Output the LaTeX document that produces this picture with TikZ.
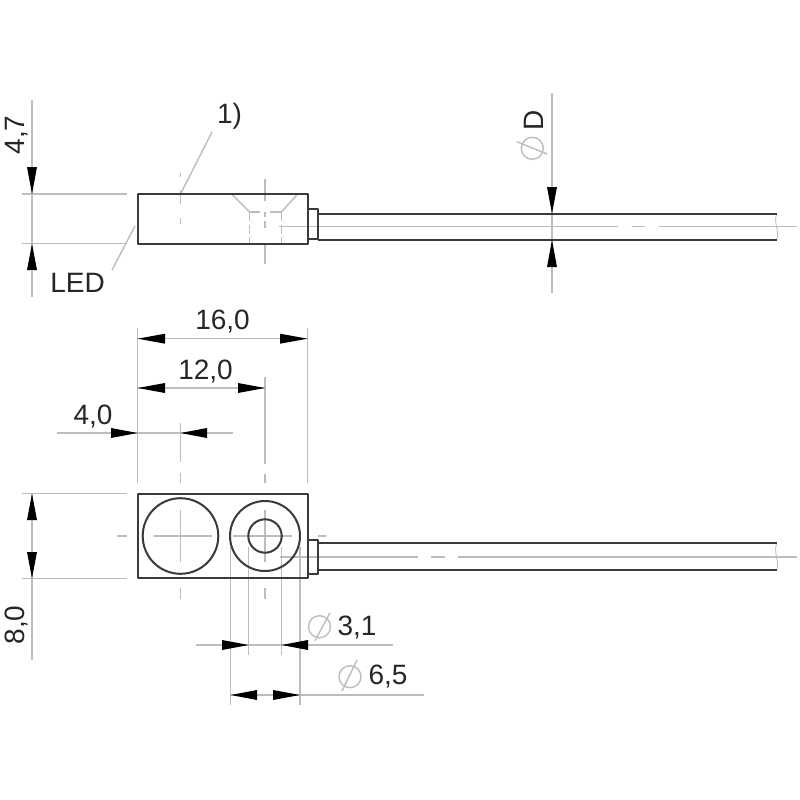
\documentclass[tikz,border=0pt]{standalone}
\usepackage{fontspec}
\setmainfont{Liberation Sans}
\definecolor{thinc}{HTML}{BDBDBD}
\definecolor{outc}{HTML}{3A3A3A}
\definecolor{txtc}{HTML}{262626}
\tikzset{
  outline/.style={draw=outc,line width=2pt},
  thin line/.style={draw=thinc,line width=1.4pt},
  hidden/.style={draw=thinc,line width=1.4pt,dash pattern=on 9pt off 3.5pt},
  tipfill/.style={fill=black,draw=none},
  dimtext/.style={text=txtc,font=\fontsize{28}{30}\selectfont,inner sep=0pt},
  phi/.style={draw=thinc,line width=1.4pt},
}
% arrowhead: tip x,y and base x,y, half width 5
\newcommand{\vtip}[3]{\fill[tipfill] (#1,#2) -- (#1-5,#3) -- (#1+5,#3) -- cycle;}
\newcommand{\htip}[3]{\fill[tipfill] (#1,#3) -- (#2,#3-5) -- (#2,#3+5) -- cycle;}
\begin{document}
\begin{tikzpicture}[x=1pt,y=-1pt]
\useasboundingbox (0,0) rectangle (800,800);
\fill[white] (0,0) rectangle (800,800);

% ---------- top view: thin lines ----------
\draw[thin line] (32,100) -- (32,297);
\draw[thin line] (22,194) -- (127,194);
\draw[thin line] (22,243.7) -- (127,243.7);
\draw[thin line] (212,132) -- (180.5,194);
\draw[thin line] (135,226) -- (112,270);
\draw[thin line] (180.5,173) -- (180.5,177);
\draw[thin line] (180.5,190) -- (180.5,204);
\draw[thin line] (180.5,218) -- (180.5,224);
\draw[thin line] (265,179) -- (265,201);
\draw[thin line] (265,212) -- (265,217);
\draw[thin line] (265,221) -- (265,228);
\draw[thin line] (265,243) -- (265,264);
\draw[thin line] (231.7,194) -- (249.3,211.7);
\draw[thin line] (297.7,194) -- (281.7,211.7);
\draw[thin line] (249.3,212) -- (260,212);
\draw[thin line] (270,212) -- (281.7,212);
\draw[hidden] (249.3,212) -- (249.3,243.7);
\draw[hidden] (281.7,212) -- (281.7,243.7);
\draw[thin line] (552,93) -- (552,293);
\draw[thin line] (279,226.7) -- (618,226.7);
\draw[thin line] (631.7,226.7) -- (645,226.7);
\draw[thin line] (658.7,226.7) -- (797,226.7);
\draw[draw=thinc,line width=.8pt] (776.7,213.7) .. controls (773,222) and (780,232) .. (776.7,240);

% top view: outlines
\draw[outline,line join=round] (137.5,194) rectangle (307.5,243.7);
\draw[outline,line join=round] (307.5,209.3) -- (318,209.3) -- (318,239.3) -- (307.5,239.3);
\draw[outline] (318,213.7) -- (776.7,213.7);
\draw[outline] (318,240) -- (776.7,240);

% top view: arrows
\vtip{32}{194}{167}
\vtip{32}{243.7}{270}
\vtip{552}{213.7}{187}
\vtip{552}{240}{267}

% top view: texts
\node[dimtext,rotate=90] (t47) at (17,135) {4,7};
\node[dimtext] (t1) at (229.5,116) {1)};
\node[dimtext] (tled) at (77.5,283) {LED};
\node[dimtext,rotate=90] (tD) at (534,120) {D};
\draw[phi] (532.3,148.3) circle (11);
\draw[phi] (516.7,141.7) -- (547.3,154);

% ---------- dimensions above the lower view ----------
\draw[thin line] (137.7,328) -- (137.7,483);
\draw[thin line] (307.5,328) -- (307.5,483);
\draw[thin line] (265,377) -- (265,464);
\draw[thin line] (265,474) -- (265,483);
\draw[thin line] (180.5,423) -- (180.5,462);
\draw[thin line] (180.5,473) -- (180.5,483);
\draw[thin line] (137.7,338.7) -- (307.5,338.7);
\draw[thin line] (137.7,388) -- (265,388);
\draw[thin line] (57,433) -- (233,433);
\htip{137.7}{165}{338.7}
\htip{307.5}{280}{338.7}
\htip{137.7}{165}{388}
\htip{265}{238}{388}
\htip{137.7}{111}{433}
\htip{180.5}{207}{433}
\node[dimtext] (t16) at (222.5,321.5) {16,0};
\node[dimtext] (t12) at (205.5,372) {12,0};
\node[dimtext] (t4) at (93,417) {4,0};

% ---------- lower view: thin lines ----------
\draw[thin line] (32,493.7) -- (32,660);
\draw[thin line] (22,493.7) -- (127,493.7);
\draw[thin line] (22,578.3) -- (127,578.3);
\draw[thin line] (116.7,536) -- (127.3,536);
\draw[thin line] (154,536) -- (212,536);
\draw[thin line] (233,536) -- (292,536);
\draw[thin line] (318,536) -- (326,536);
\draw[thin line] (180.5,510) -- (180.5,562);
\draw[thin line] (180.5,588) -- (180.5,599);
\draw[thin line] (265,510) -- (265,562);
\draw[thin line] (265,588) -- (265,599);
\draw[thin line] (230.7,547) -- (230.7,705);
\draw[thin line] (300,547) -- (300,705);
\draw[thin line] (248.7,547) -- (248.7,655);
\draw[thin line] (281.5,547) -- (281.5,655);
\draw[thin line] (196,645) -- (393,645);
\draw[thin line] (230.7,695) -- (424,695);
\draw[thin line] (280,557) -- (418,557);
\draw[thin line] (431,557) -- (445,557);
\draw[thin line] (458,557) -- (797,557);
\draw[draw=thinc,line width=.8pt] (776.7,543.3) .. controls (773,552) and (780,562) .. (776.7,570);

% lower view: outlines
\draw[outline,line join=round] (137.5,493.7) rectangle (307.5,578.3);
\draw[outline] (180.5,536) circle (37.8);
\draw[outline] (265,536) circle (35);
\draw[outline] (265,536) circle (16.7);
\draw[outline,line join=round] (307.5,540) -- (318,540) -- (318,574.3) -- (307.5,574.3);
\draw[outline] (318,543.3) -- (776.7,543.3);
\draw[outline] (318,570) -- (776.7,570);

% lower view: arrows
\vtip{32}{493.7}{520}
\vtip{32}{578.3}{552}
\htip{248.7}{222}{645}
\htip{281.5}{308}{645}
\htip{230.7}{257}{695}
\htip{300}{273}{695}

% lower view: texts
\node[dimtext,rotate=90] (t8) at (17,625) {8,0};
\node[dimtext] (t31) at (357,628) {3,1};
\node[dimtext] (t65) at (388,677) {6,5};
\draw[phi] (319.5,626.7) circle (11);
\draw[phi] (315,640.7) -- (330,612.7);
\draw[phi] (350,676.7) circle (11);
\draw[phi] (342,691) -- (357,660);
\end{tikzpicture}
\end{document}
